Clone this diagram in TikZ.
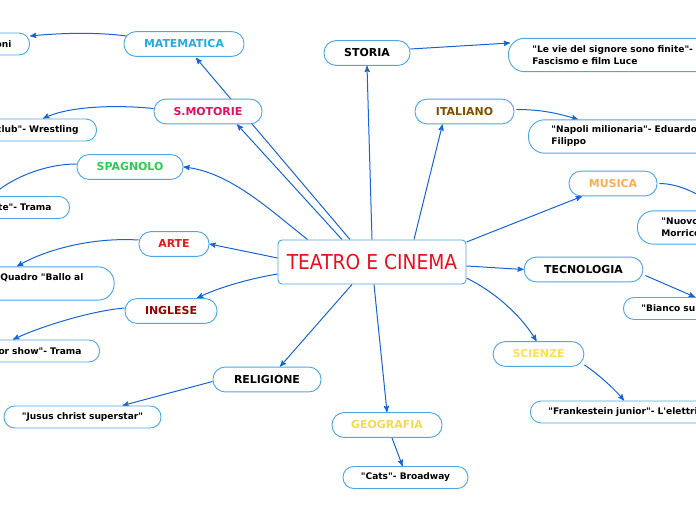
\documentclass[tikz,border=0pt]{standalone}
\usepackage{fontspec}
\setmainfont{DejaVu Sans}[Ligatures=TeXOff]
\usetikzlibrary{arrows,calc,backgrounds}
\definecolor{boxblue}{HTML}{4DA6E6}
\definecolor{linkblue}{HTML}{1663D6}
\definecolor{titlered}{HTML}{E8101A}
\definecolor{matblue}{HTML}{29A9E1}
\definecolor{motred}{HTML}{E0115F}
\definecolor{spagreen}{HTML}{2ECC52}
\definecolor{artered}{HTML}{E01B1B}
\definecolor{ingred}{HTML}{990000}
\definecolor{itabrown}{HTML}{7F4F00}
\definecolor{musorange}{HTML}{FFAD4D}
\definecolor{sciyellow}{HTML}{FFE14D}
\definecolor{geoyellow}{HTML}{F0DC50}

\begin{document}
\begin{tikzpicture}[x=0.75pt,y=-0.75pt,
  hub/.style={draw=boxblue,fill=white,line width=0.7pt,rounded corners=3pt,minimum width=141pt,minimum height=33pt,text=titlered,font=\fontsize{14}{16}\selectfont},
  topic/.style={draw=boxblue,fill=white,line width=0.7pt,rounded corners=9pt,minimum height=18.6pt,inner xsep=0pt,font=\bfseries\fontsize{8.2}{10}\selectfont},
  leaf/.style={draw=boxblue,fill=white,line width=0.7pt,rounded corners=8pt,minimum height=16.5pt,inner ysep=1pt,font=\bfseries\fontsize{6.8}{9}\selectfont},
  leaftwo/.style={leaf,rounded corners=12pt,minimum height=25pt},
  lcut/.style={anchor=east,align=right,text width=110pt,inner xsep=13.5pt},
  rcut/.style={anchor=west,align=left,text width=200pt,inner xsep=13.5pt},
  link/.style={linkblue,line width=0.75pt,-stealth'}]
\useasboundingbox (0,0) rectangle (696,520);
\clip (0,0) rectangle (696,520);

% centre
\node[hub] (tc) at (372,262) {\scalebox{1}[1.1]{TEATRO E CINEMA}};

% subjects
\node[topic,minimum width=90pt,text=matblue] (mat) at (184,44) {MATEMATICA};
\node[topic,minimum width=81pt,text=motred] (mot) at (208,111.5) {S.MOTORIE};
\node[topic,minimum width=79.5pt,text=spagreen] (spa) at (130,167) {SPAGNOLO};
\node[topic,minimum width=52.5pt,text=artered] (arte) at (174,244) {ARTE};
\node[topic,minimum width=69pt,text=ingred] (ing) at (171,311) {INGLESE};
\node[topic,minimum width=81pt] (rel) at (267,379.5) {RELIGIONE};
\node[topic,minimum width=64.5pt] (sto) at (367,53) {STORIA};
\node[topic,minimum width=74.25pt,text=itabrown] (ita) at (464.5,111.5) {ITALIANO};
\node[topic,minimum width=66pt,text=musorange] (mus) at (613,183.5) {MUSICA};
\node[topic,minimum width=89pt] (tec) at (583.5,269.5) {TECNOLOGIA};
\node[topic,minimum width=68pt,text=sciyellow] (sci) at (538.5,354) {SCIENZE};
\node[topic,minimum width=82.5pt,text=geoyellow] (geo) at (387,425) {GEOGRAFIA};

% works
\node[leaf,lcut] (oni) at (30,44) {oni};
\node[leaf,lcut] (wre) at (97,130) {club"- Wrestling};
\node[leaf,lcut] (tra1) at (70,207.5) {te"- Trama};
\node[leaftwo,anchor=west,align=left,text width=68pt,inner xsep=17.25pt] (qua) at (-23,283.5) {Quadro "Ballo al\\\mbox{}};
\node[leaf,lcut] (tra2) at (100,351) {or show"- Trama};
\node[leaf,minimum width=117.75pt] (jus) at (82.5,417) {"Jusus christ superstar"};
\node[leaftwo,rcut,inner xsep=18pt] (vie) at (508,55) {"Le vie del signore sono finite"-\\Fascismo e film Luce};
\node[leaftwo,rcut,inner xsep=17.25pt] (nap) at (528,136.5) {"Napoli milionaria"- Eduardo\\Filippo};
\node[leaftwo,rcut,inner xsep=18pt] (nuo) at (637,227.5) {"Nuovo\\Morrico};
\node[leaf,rcut] (bia) at (623,308.5) {"Bianco su};
\node[leaf,rcut] (fra) at (530,412) {"Frankestein junior"- L'elettri};
\node[leaf,minimum width=93.75pt] (cat) at (405.5,477.5) {"Cats"- Broadway};

\begin{pgfonlayer}{background}
\draw[link] (tc.north) -- (sto.south);
\draw[link] ($(tc.north)+(42,0)$) -- ($(ita.south)+(-22,0)$);
\draw[link] ($(tc.north)+(-22,0)$) -- ($(mat.south)+(12,1)$);
\draw[link] ($(tc.north)+(-30,0)$) -- ($(mot.south)+(29,0)$);
\draw[link] ($(tc.north west)+(30,0)$) .. controls (270,210) and (230,172) .. (spa.east);
\draw[link] ($(tc.west)+(0,-4)$) -- (arte.east);
\draw[link] ($(tc.west)+(0,12)$) .. controls +(-30,5) and +(20,-10) .. ($(ing.north)+(26,0)$);
\draw[link] ($(tc.south)+(-20,0)$) -- ($(rel.north)+(13,0)$);
\draw[link] ($(tc.south)+(2,0)$) -- (geo.north);
\draw[link] ($(tc.east)+(0,16)$) .. controls +(30,15) and +(-15,-25) .. ($(sci.north)+(-2,0)$);
\draw[link] ($(tc.east)+(0,4)$) -- (tec.west);
\draw[link] ($(tc.east)+(0,-20)$) -- ($(mus.south)+(-31,0)$);

\draw[link] ($(mat.west)+(3,-8)$) .. controls +(-30,-4) and +(30,-3) .. ($(oni.east)+(0,-8)$);
\draw[link] ($(mot.west)+(0,-3)$) .. controls +(-40,-4) and +(25,-12) .. ($(wre.north east)+(-54,0)$);
\draw[link] ($(spa.west)+(0,-3)$) .. controls +(-35,0) and +(15,-15) .. ($(tra1.north east)+(-78,0)$);
\draw[link] ($(arte.west)+(0,-4)$) .. controls +(-50,-3) and +(25,-15) .. ($(qua.north west)+(40,0)$);
\draw[link] ($(ing.west)+(0,-3)$) .. controls +(-35,3) and +(25,-12) .. ($(tra2.north east)+(-87,0)$);
\draw[link] ($(rel.west)+(0,2)$) -- ($(jus.north)+(40,0)$);
\draw[link] ($(sto.east)+(0,-4)$) -- ($(vie.west)+(2,-12)$);
\draw[link] ($(ita.east)+(2,-2)$) .. controls +(25,0) and +(-20,-6) .. ($(nap.north west)+(50,0)$);
\draw[link] ($(mus.east)+(2,0)$) .. controls +(20,0) and +(-10,-10) .. ($(nuo.north west)+(75,-5)$);
\draw[link] ($(tec.east)+(2,6)$) -- ($(bia.north west)+(72,0)$);
\draw[link] ($(sci.south east)+(0,-2)$) .. controls +(15,10) and +(-8,-10) .. ($(fra.north west)+(94,0)$);
\draw[link] ($(geo.south)+(5,0)$) -- ($(cat.north)+(-3,0)$);
\end{pgfonlayer}
\end{tikzpicture}
\end{document}
